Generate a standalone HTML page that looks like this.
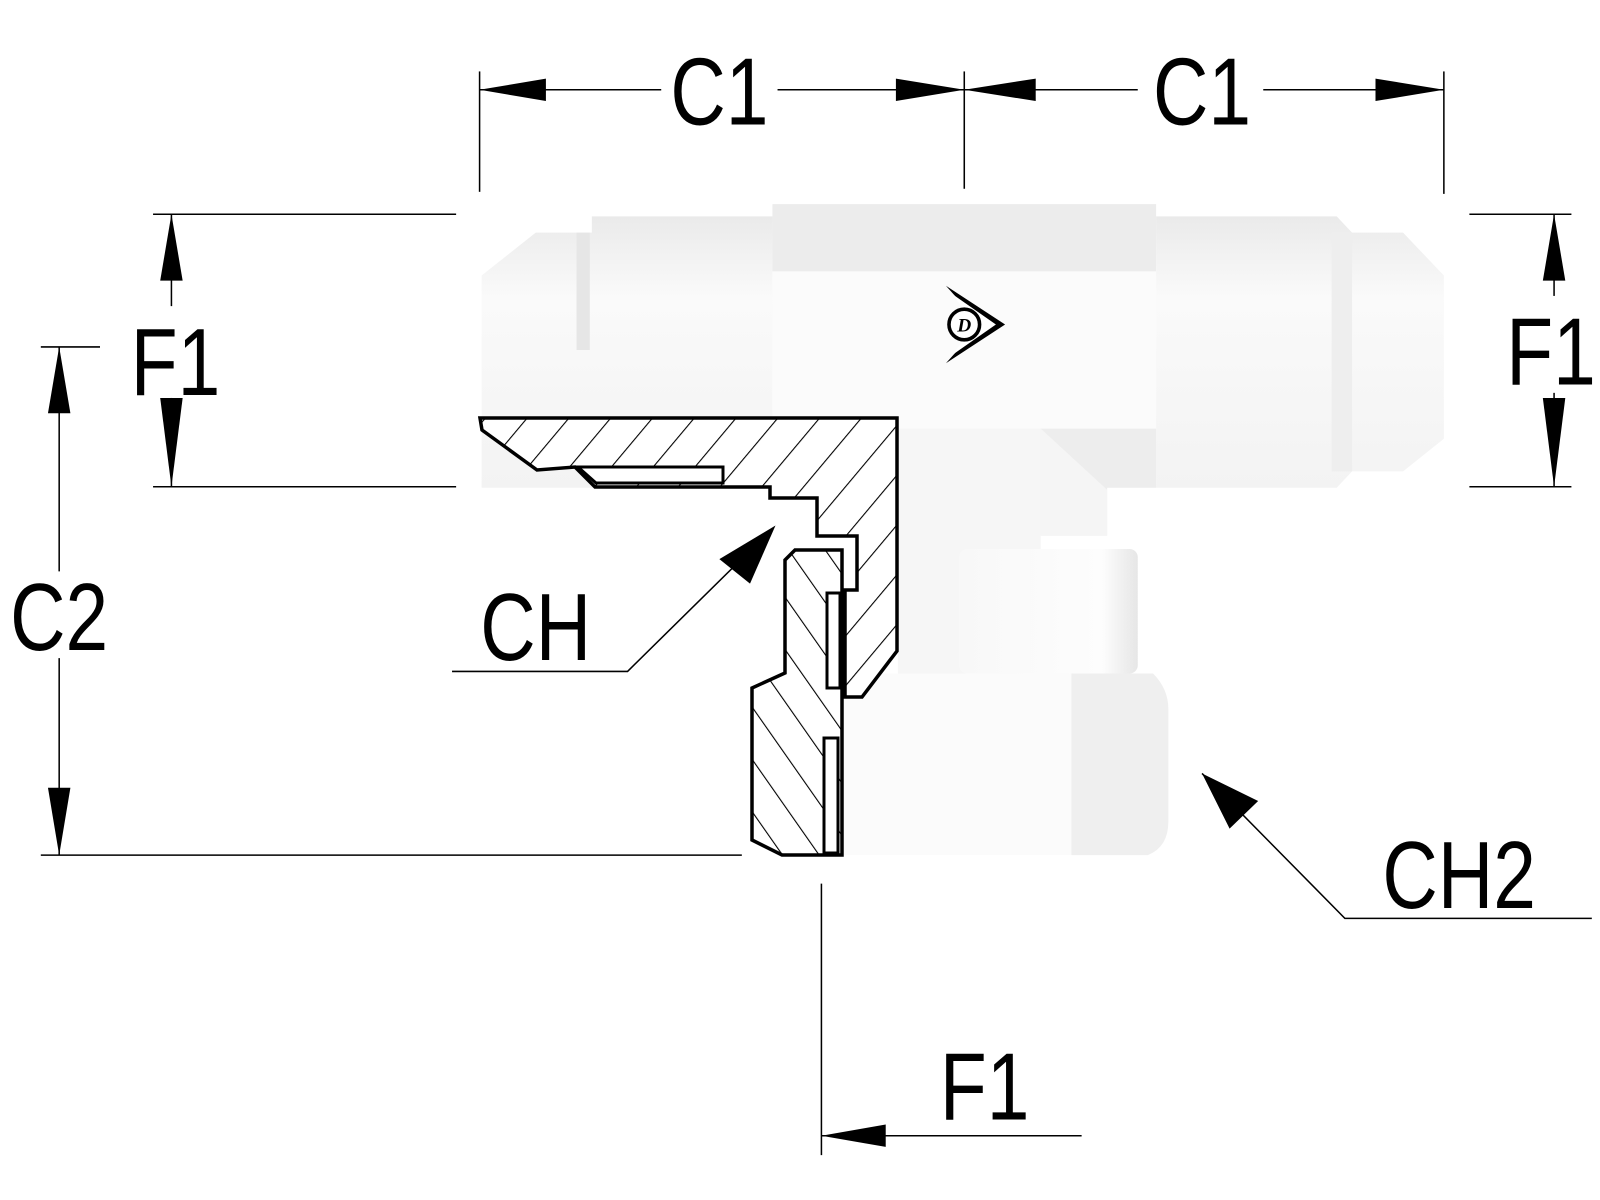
<!DOCTYPE html>
<html><head><meta charset="utf-8"><style>html,body{margin:0;padding:0;background:#fff}svg{display:block}</style></head>
<body>
<svg width="1600" height="1200" viewBox="0 0 1600 1200" xmlns="http://www.w3.org/2000/svg">
<defs>
<pattern id="h1" patternUnits="userSpaceOnUse" width="32" height="32" patternTransform="rotate(40)">
<rect width="32" height="32" fill="#fff"/><line x1="0" y1="0" x2="0" y2="32" stroke="#000" stroke-width="2.2"/></pattern>
<pattern id="h2" patternUnits="userSpaceOnUse" width="30" height="30" patternTransform="rotate(-35)">
<rect width="30" height="30" fill="#fff"/><line x1="0" y1="0" x2="0" y2="30" stroke="#000" stroke-width="2.2"/></pattern>
<linearGradient id="gv" x1="0" y1="0" x2="0" y2="1"><stop offset="0" stop-color="#eaeaea"/><stop offset="0.3" stop-color="#fafafa"/><stop offset="1" stop-color="#f3f3f3"/></linearGradient>
<linearGradient id="gh" x1="0" y1="0" x2="1" y2="0"><stop offset="0" stop-color="#f8f8f8"/><stop offset="0.8" stop-color="#fdfdfd"/><stop offset="1" stop-color="#e6e6e6"/></linearGradient>
</defs>
<g transform="scale(1.0204)">
<polygon points="472,270 525,228 580,228 580,212 757,212 757,478 472,478" fill="url(#gv)"/>
<rect x="565" y="228" width="13" height="115" fill="#e6e6e6"/>
<rect x="757" y="200" width="376" height="66" fill="#ececec"/>
<rect x="757" y="266" width="376" height="212" fill="#fbfbfb"/>
<polygon points="1133,212 1310,212 1325,228 1375,228 1415,270 1415,430 1375,462 1325,462 1310,478 1133,478" fill="url(#gv)"/>
<rect x="1305" y="228" width="20" height="234" fill="#eeeeee"/>
<rect x="880" y="420" width="140" height="250" fill="#f6f6f6"/>
<polygon points="1020,420 1133,420 1133,478 1085,478 1085,525 1020,525" fill="#ededed"/>
<polygon points="1020,420 1085,480 1085,525 1020,525" fill="#f5f5f5"/>
<rect x="940" y="538" width="175" height="122" rx="8" fill="url(#gh)"/>
<rect x="825" y="660" width="225" height="178" fill="#fbfbfb"/>
<path d="M1050,660 L1130,660 Q1145,675 1145,695 L1145,805 Q1145,830 1125,838 L1050,838 Z" fill="#efefef"/>
<g transform="translate(945,318)">
<polygon points="-18,-38 40,0 -18,38 16,0" fill="#000"/>
<polygon points="-12,-30 31,0 -12,30 11,0" fill="#fff"/>
<circle r="15" fill="#fff" stroke="#000" stroke-width="3.5"/>
<text x="0" y="7" font-family="Liberation Serif,serif" font-weight="bold" font-style="italic" font-size="19" text-anchor="middle">D</text>
</g>
<g stroke="#000" stroke-width="1.5" fill="none">
<line x1="470" y1="70" x2="470" y2="188"/><line x1="945" y1="70" x2="945" y2="185"/><line x1="1415" y1="70" x2="1415" y2="190"/>
<line x1="470" y1="88" x2="648" y2="88"/><line x1="762" y1="88" x2="1115" y2="88"/><line x1="1238" y1="88" x2="1415" y2="88"/>
<line x1="150" y1="210" x2="447" y2="210"/><line x1="150" y1="477" x2="447" y2="477"/>
<line x1="168" y1="210" x2="168" y2="300"/><line x1="168" y1="390" x2="168" y2="477"/>
<line x1="40" y1="340" x2="98" y2="340"/><line x1="40" y1="838" x2="727" y2="838"/>
<line x1="58" y1="340" x2="58" y2="560"/><line x1="58" y1="645" x2="58" y2="838"/>
<line x1="1440" y1="210" x2="1540" y2="210"/><line x1="1440" y1="477" x2="1540" y2="477"/>
<line x1="1523" y1="210" x2="1523" y2="290"/><line x1="1523" y1="385" x2="1523" y2="477"/>
<line x1="805" y1="866" x2="805" y2="1132"/><line x1="805" y1="1113" x2="1060" y2="1113"/>
<polyline points="443,658 615,658 755,520"/>
<polyline points="1560,900 1318,900 1178,758"/>
</g>
<g fill="#000">
<polygon points="470,88 535,77 535,99"/><polygon points="945,88 878,77 878,99"/>
<polygon points="945,88 1015,77 1015,99"/><polygon points="1415,88 1348,77 1348,99"/>
<polygon points="168,210 157,275 179,275"/><polygon points="168,477 157,390 179,390"/>
<polygon points="58,340 47,405 69,405"/><polygon points="58,838 47,772 69,772"/>
<polygon points="1523,210 1512,275 1534,275"/><polygon points="1523,477 1512,390 1534,390"/>
<polygon points="805,1113 868,1102 868,1124"/>
<polygon points="760,515 735,572 705,548"/>
<polygon points="1178,758 1233,785 1205,812"/>
</g>
<g font-family="Liberation Sans,sans-serif" font-size="94" fill="#000" text-anchor="middle">
<text transform="translate(705,122) scale(0.8,1)">C1</text>
<text transform="translate(1178,122) scale(0.8,1)">C1</text>
<text transform="translate(172,387) scale(0.8,1)">F1</text>
<text transform="translate(1520,377) scale(0.8,1)">F1</text>
<text transform="translate(58,637) scale(0.8,1)">C2</text>
<text transform="translate(525,647) scale(0.8,1)">CH</text>
<text transform="translate(1430,890) scale(0.8,1)">CH2</text>
<text transform="translate(965,1097) scale(0.8,1)">F1</text>
</g>
</g>
<g stroke="#000" stroke-width="3.5" stroke-linejoin="miter">
<polygon points="480,418 897,418 897,651 862,697 845,697 845,590 857,590 857,536 817,536 817,498 770,498 770,487 595,487 575,467 537,470 482,430" fill="url(#h1)"/>
<polygon points="578,467 723,467 723,483 596,483" fill="#fff" stroke-width="3"/>
<polygon points="795,550 842,550 842,855 782,855 752,840 752,688 785,673 785,560" fill="url(#h2)"/>
<rect x="827" y="593" width="13" height="95" fill="#fff" stroke-width="3"/>
<rect x="824" y="738" width="14" height="115" fill="#fff" stroke-width="3"/>
</g>
</svg>
</body></html>
